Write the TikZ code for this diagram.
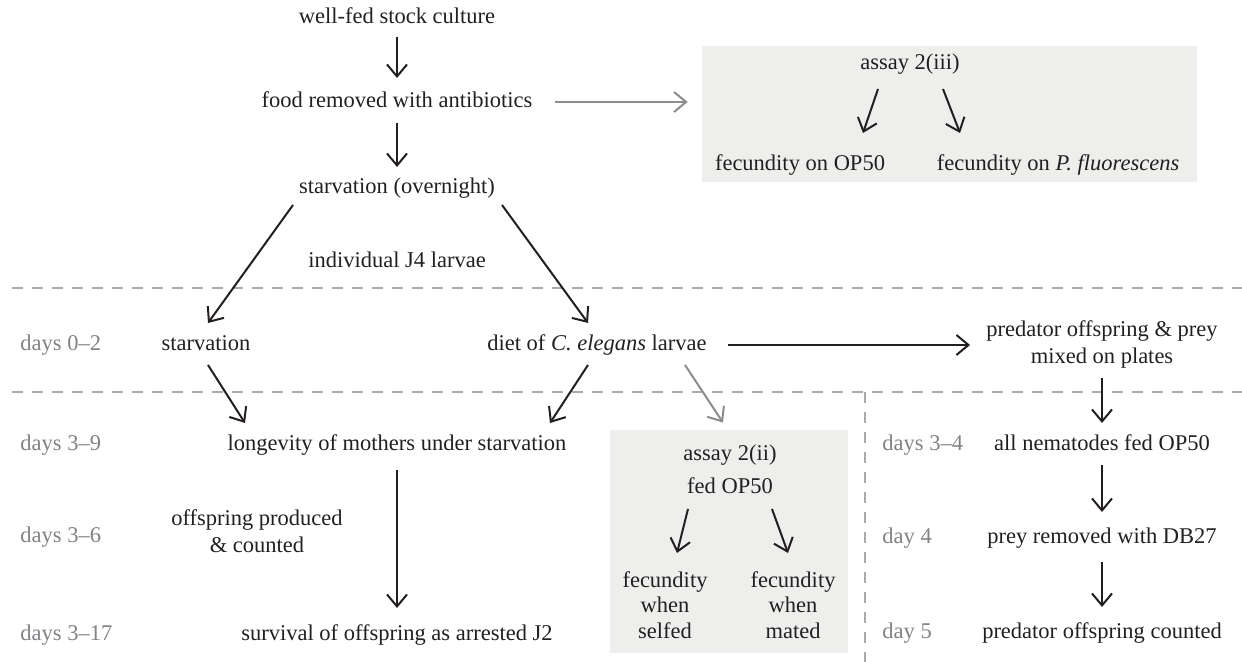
\documentclass[tikz,border=0pt]{standalone}
\usepackage{fontspec}
\setmainfont{Liberation Serif}
\usetikzlibrary{arrows.meta,calc}
\definecolor{txt}{HTML}{231F20}
\definecolor{daygrey}{HTML}{808285}
\definecolor{linegrey}{HTML}{A7A9AC}
\definecolor{boxfill}{HTML}{EEEFED}
\definecolor{arrgrey}{HTML}{8A8C8E}
\begin{document}
\begin{tikzpicture}[x=0.5pt,y=-0.5pt,
  lbl/.style={font=\rmfamily\fontsize{11.25}{13.5}\selectfont, text=txt, inner sep=0pt, text height=7.6pt, text depth=2.4pt},
  ml/.style={font=\rmfamily\fontsize{11.25}{13.5}\selectfont, text=txt, inner sep=0pt, align=center},
  ml3/.style={font=\rmfamily\fontsize{11.25}{12.75}\selectfont, text=txt, inner sep=0pt, align=center},
  day/.style={lbl, text=daygrey, anchor=west},
  arr/.style={draw=txt, line width=1pt, -{Straight Barb[length=6pt,width=10pt,line width=1pt]}},
  garr/.style={draw=arrgrey, line width=1pt, -{Straight Barb[length=6pt,width=10pt,line width=1pt]}},
  sep/.style={draw=linegrey, line width=1pt, dash pattern=on 5.5pt off 4.5pt},
  abox/.style={fill=boxfill, draw=none, inner sep=0pt}]
\useasboundingbox (0,0) rectangle (1242,662);

% shaded boxes
\node (b3) [abox, minimum width=247.5pt, minimum height=68pt] at (949.5,114) {};
\node (b2) [abox, minimum width=119pt, minimum height=111.5pt] at (729,541.5) {};

% separators
\coordinate (s1a) at (12,288); \coordinate (s1b) at (1242,288);
\coordinate (s2a) at (12,392); \coordinate (s2b) at (1242,392);
\coordinate (s3a) at (865,392); \coordinate (s3b) at (865,662);
\draw[sep] (s1a) -- (s1b);
\draw[sep] (s2a) -- (s2b);
\draw[sep] (s3a) -- (s3b);

% top column
\node (wf) [lbl] at (397,18) {well-fed stock culture};
\node (food) [lbl] at (397,102) {food removed with antibiotics};
\node (so) [lbl] at (397,188) {starvation (overnight)};
\node (j4) [lbl] at (397,262) {individual J4 larvae};

% assay 2(iii)
\node (a3) [lbl] at (910,64) {assay 2(iii)};
\node (f1) [lbl] at (800,165) {fecundity on OP50};
\node (f2) [lbl] at (1058,165) {fecundity on \textit{P. fluorescens}};

% days 0-2 row
\node (d02) [day] at (20,345) {days 0–2};
\node (st) [lbl] at (206,345) {starvation};
\node (diet) [lbl] at (597,345) {diet of \textit{C. elegans} larvae};
\node (pred) [ml] at (1102,344.5) {predator offspring \& prey\\mixed on plates};

% lower left
\node (d39) [day] at (20,445) {days 3–9};
\node (lon) [lbl] at (397,445) {longevity of mothers under starvation};
\node (d36) [day] at (20,537) {days 3–6};
\node (off) [ml] at (257,531) {offspring produced\\\& counted};
\node (d317) [day] at (20,635) {days 3–17};
\node (surv) [lbl] at (397,635) {survival of offspring as arrested J2};

% assay 2(ii)
\node (a2) [lbl] at (730,455) {assay 2(ii)};
\node (fed) [lbl] at (730,488) {fed OP50};
\node (fs) [ml3] at (665,605) {fecundity\\when\\selfed};
\node (fm) [ml3] at (793,605) {fecundity\\when\\mated};

% right column
\node (d34) [day] at (882,445) {days 3–4};
\node (all) [lbl] at (1102,445) {all nematodes fed OP50};
\node (d4) [day] at (882,538) {day 4};
\node (prey) [lbl] at (1102,538) {prey removed with DB27};
\node (d5) [day] at (882,633) {day 5};
\node (pc) [lbl] at (1102,633) {predator offspring counted};

% connectors
\draw[arr] ($(wf)+(0,19)$) -- ($(food)+(0,-24)$);
\draw[arr] ($(food)+(0,21)$) -- ($(so)+(0,-21)$);
\draw[garr] ($(food)+(158,0)$) -- ($(b3.west)+(-14,-12)$);
\draw[arr] ($(a3)+(-32,25)$) -- ($(f1)+(63,-32)$);
\draw[arr] ($(a3)+(33,25)$) -- ($(f2)+(-98,-32)$);
\draw[arr] ($(so)+(-104,17)$) -- ($(st)+(2,-22)$);
\draw[arr] ($(so)+(105,17)$) -- ($(diet)+(-9,-22)$);
\draw[arr] ($(diet)+(131,0)$) -- ($(pred)+(-132,0.5)$);
\draw[arr] ($(st)+(2,20)$) -- ($(lon)+(-152,-22)$);
\draw[arr] ($(diet)+(-9,20)$) -- ($(lon)+(153,-22)$);
\draw[garr] ($(diet)+(88,20)$) -- ($(b2.north)+(-6,-7)$);
\draw[arr] ($(lon)+(0,25)$) -- ($(surv)+(0,-27)$);
\draw[arr] ($(fed)+(-42,21)$) -- ($(fs)+(12,-52)$);
\draw[arr] ($(fed)+(42,21)$) -- ($(fm)+(-5,-52)$);
\draw[arr] ($(pred)+(0,33.5)$) -- ($(all)+(0,-22)$);
\draw[arr] ($(all)+(0,20)$) -- ($(prey)+(0,-26)$);
\draw[arr] ($(prey)+(0,24)$) -- ($(pc)+(0,-26)$);
\end{tikzpicture}
\end{document}
